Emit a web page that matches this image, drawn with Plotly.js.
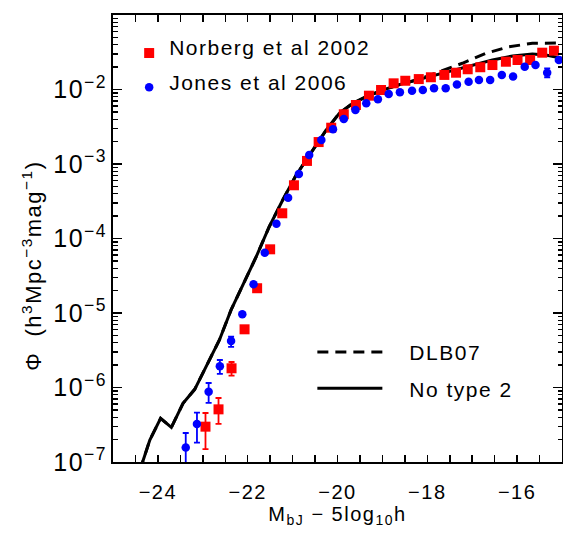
<!DOCTYPE html>
<html>
<head>
<meta charset="utf-8">
<script src="https://cdn.plot.ly/plotly-3.0.1.min.js"></script>
<style>
html,body{margin:0;padding:0;background:#fff;}
#chart .main-svg text{letter-spacing:1.5px;}
#chart .scrollbox{clip-path:none !important;}
#chart .legendtext{transform:translate(0px,-6px);}
</style>
</head>
<body>
<div id="chart" style="width:563px;height:534px;"></div>
<script>
// Norberg et al 2002 (red squares)
var norbergM = [-22.94,-22.65,-22.36,-22.07,-21.79,-21.50,-21.23,-20.97,-20.68,-20.42,-20.14,-19.86,-19.59,-19.30,-19.03,-18.75,-18.49,-18.19,-17.92,-17.62,-17.36,-17.10,-16.82,-16.55,-16.25,-15.99,-15.71,-15.44,-15.18];
var norbergPhi = [2.98e-7,5.09e-7,1.81e-6,6.04e-6,2.15e-5,7.16e-5,2.18e-4,5.18e-4,1.10e-3,1.97e-3,3.07e-3,4.65e-3,6.19e-3,8.26e-3,9.84e-3,1.21e-2,1.31e-2,1.38e-2,1.46e-2,1.57e-2,1.68e-2,1.87e-2,1.99e-2,2.13e-2,2.36e-2,2.49e-2,2.49e-2,3.12e-2,3.32e-2];
var norbergErrPlus = [1.57e-7,2.14e-7,3.9e-7,0,0,0,0,0,0,0,0,0,0,0,0,0,0,0,0,0,0,0,0,0,0,0,0,0,0];
var norbergErrMinus = [1.49e-7,1.85e-7,3.7e-7,0,0,0,0,0,0,0,0,0,0,0,0,0,0,0,0,0,0,0,0,0,0,0,0,0,0];

// Jones et al 2006 (blue circles)
var jonesM = [-23.38,-23.13,-22.87,-22.62,-22.37,-22.12,-21.87,-21.62,-21.36,-21.10,-20.86,-20.63,-20.36,-20.10,-19.86,-19.60,-19.36,-19.10,-18.86,-18.61,-18.34,-18.10,-17.85,-17.59,-17.34,-17.08,-16.85,-16.60,-16.34,-16.09,-15.83,-15.59,-15.33,-15.07];
var jonesPhi = [1.56e-7,3.24e-7,8.79e-7,1.93e-6,4.21e-6,9.6e-6,2.43e-5,6.44e-5,1.58e-4,3.53e-4,7.35e-4,1.32e-3,2.10e-3,2.92e-3,4.02e-3,5.31e-3,6.53e-3,7.38e-3,8.70e-3,9.17e-3,9.63e-3,9.84e-3,1.04e-2,1.04e-2,1.17e-2,1.27e-2,1.34e-2,1.34e-2,1.57e-2,1.49e-2,2.02e-2,2.13e-2,1.68e-2,2.49e-2];
var jonesErrPlus = [0.89e-7,1.35e-7,2.7e-7,4.1e-7,5.9e-7,0,0,0,0,0,0,0,0,0,0,0,0,0,0,0,0,0,0,0,0,0,0,0,0,0,0,0,0.24e-2,0];
var jonesErrMinus = [0.7e-7,1.42e-7,2.59e-7,4.1e-7,7.1e-7,0,0,0,0,0,0,0,0,0,0,0,0,0,0,0,0,0,0,0,0,0,0,0,0,0,0,0,0.22e-2,0];

// Model "No type 2" (solid)
var noType2M = [-24.40,-24.34,-24.18,-23.94,-23.70,-23.44,-23.18,-22.92,-22.63,-22.37,-22.11,-21.81,-21.52,-21.22,-20.92,-20.55,-20.25,-19.96,-19.66,-19.36,-18.99,-18.60,-18.18,-17.66,-17.14,-16.55,-16.10,-15.66,-15.36,-15.00];
var noType2Phi = [7.5e-8,1.0e-7,1.97e-7,3.86e-7,2.92e-7,6.14e-7,9.46e-7,1.94e-6,4.35e-6,1.10e-5,2.38e-5,5.70e-5,1.44e-4,3.29e-4,7.11e-4,1.54e-3,2.86e-3,4.80e-3,6.53e-3,8.0e-3,9.84e-3,1.17e-2,1.37e-2,1.65e-2,2.02e-2,2.49e-2,2.82e-2,3.0e-2,2.9e-2,2.62e-2];

// Model DLB07 (dashed)
var dlbM = [-24.40,-24.34,-24.18,-23.94,-23.70,-23.44,-23.18,-22.92,-22.63,-22.37,-22.11,-21.81,-21.52,-21.22,-20.92,-20.55,-20.25,-19.96,-19.66,-19.36,-18.99,-18.60,-18.18,-17.73,-17.22,-16.70,-16.18,-15.66,-15.22,-15.00];
var dlbPhi = [7.5e-8,1.0e-7,1.97e-7,3.86e-7,2.92e-7,6.14e-7,9.46e-7,1.94e-6,4.35e-6,1.10e-5,2.38e-5,5.70e-5,1.44e-4,3.29e-4,7.11e-4,1.54e-3,2.86e-3,4.80e-3,6.53e-3,8.0e-3,9.84e-3,1.17e-2,1.38e-2,1.73e-2,2.25e-2,3.06e-2,3.75e-2,4.17e-2,4.25e-2,4.2e-2];

var FONT = 'Liberation Sans, Arial, Helvetica, sans-serif';
var NB = '\u00a0\u00a0\u00a0';

var traces = [
  {x: dlbM, y: dlbPhi, mode: 'lines', name: NB + 'DLB07', legend: 'legend2', legendgroup: 'g3',
   line: {color: '#000', width: 3, dash: '11px,7px'}},
  {x: noType2M, y: noType2Phi, mode: 'lines', name: NB + 'No type 2', legend: 'legend2', legendgroup: 'g4',
   line: {color: '#000', width: 3}},
  {x: norbergM, y: norbergPhi, mode: 'markers', name: 'Norberg et al 2002', legend: 'legend', legendgroup: 'g1',
   marker: {symbol: 'square', size: 10, color: '#ff0000'},
   error_y: {type: 'data', symmetric: false, array: norbergErrPlus, arrayminus: norbergErrMinus,
             color: '#ff0000', thickness: 1.8, width: 3}},
  {x: jonesM, y: jonesPhi, mode: 'markers', name: 'Jones et al 2006', legend: 'legend', legendgroup: 'g2',
   marker: {symbol: 'circle', size: 8.5, color: '#0000ff'},
   error_y: {type: 'data', symmetric: false, array: jonesErrPlus, arrayminus: jonesErrMinus,
             color: '#0000ff', thickness: 1.8, width: 3}}
];

var layout = {
  width: 563, height: 534,
  margin: {l: 113, r: 1, t: 15, b: 72, pad: 0},
  paper_bgcolor: '#fff', plot_bgcolor: '#fff',
  font: {family: FONT, color: '#000', size: 19},
  showlegend: true,
  xaxis: {
    range: [-25, -15], tick0: 0, dtick: 2,
    ticks: 'inside', ticklen: 7, tickwidth: 1.5, tickcolor: '#000',
    showline: true, linewidth: 2, linecolor: '#000', mirror: 'ticks',
    showgrid: false, zeroline: false,
    tickfont: {family: FONT, size: 20},
    ticklabelstandoff: 11,
    minor: {dtick: 0.5, ticks: 'inside', ticklen: 7, tickwidth: 1.5, tickcolor: '#000', showgrid: false},
    title: {text: 'M<sub>bJ</sub> − 5log<sub>10</sub>h', font: {family: FONT, size: 20}, standoff: 4}
  },
  yaxis: {
    type: 'log', range: [-7, -1], dtick: 1, exponentformat: 'power',
    ticks: 'inside', ticklen: 9, tickwidth: 1.5, tickcolor: '#000',
    showline: true, linewidth: 2, linecolor: '#000', mirror: 'ticks',
    showgrid: false, zeroline: false,
    tickfont: {family: FONT, size: 20},
    minor: {dtick: 'D1', ticks: 'inside', ticklen: 4.5, tickwidth: 1.2, tickcolor: '#000', showgrid: false}
  },
  legend: {
    x: 0.036, y: 0.96, xanchor: 'left', yanchor: 'top',
    bgcolor: 'rgba(0,0,0,0)', borderwidth: 0,
    font: {family: FONT, size: 21},
    traceorder: 'grouped', tracegroupgap: 4, itemwidth: 30
  },
  legend2: {
    x: 0.444, y: 0.291, xanchor: 'left', yanchor: 'top',
    bgcolor: 'rgba(0,0,0,0)', borderwidth: 0,
    font: {family: FONT, size: 21},
    traceorder: 'grouped', tracegroupgap: 6, itemwidth: 65
  },
  annotations: [{
    xref: 'paper', yref: 'paper', x: (32 - 113) / 449, y: 1 - (266 - 15) / 447,
    xanchor: 'center', yanchor: 'middle', showarrow: false, textangle: -90,
    text: 'Φ  (h<sup>3</sup>Mpc<sup>−3</sup>mag<sup>−1</sup>)',
    font: {family: FONT, size: 22}
  }]
};

Plotly.newPlot('chart', traces, layout, {displayModeBar: false, staticPlot: true});
</script>
</body>
</html>
